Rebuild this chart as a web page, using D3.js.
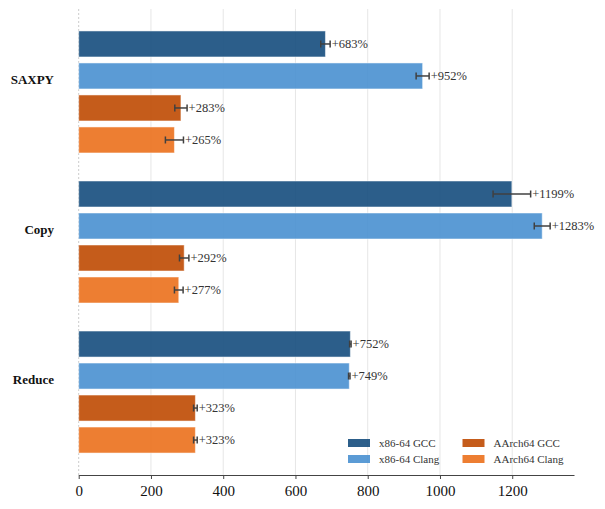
<!DOCTYPE html>
<html>
<head>
<meta charset="utf-8">
<script src="https://cdn.jsdelivr.net/npm/d3@7"></script>
<style>
  body { margin: 0; background: #fff; }
  svg { display: block; }
</style>
</head>
<body>
<svg id="chart"></svg>
<script>
const width = 605;
const height = 509;

// data
const benchmarks = ["SAXPY", "Copy", "Reduce"];
const seriesNames = ["x86-64 GCC", "x86-64 Clang", "AArch64 GCC", "AArch64 Clang"];
const seriesColors = ["#154d7d", "#4990d0", "#bf4a02", "#eb701c"];
const x86Gcc = [683, 1199, 752];
const x86Clang = [952, 1283, 749];
const a64Gcc = [283, 292, 323];
const a64Clang = [265, 277, 323];
const x86GccErr = [13, 52, 2];
const x86ClangErr = [18, 22, 2];
const a64GccErr = [17, 13, 5];
const a64ClangErr = [25, 12, 5];
const xTicks = [0, 200, 400, 600, 800, 1000, 1200];

const values = [x86Gcc, x86Clang, a64Gcc, a64Clang];
const errs = [x86GccErr, x86ClangErr, a64GccErr, a64ClangErr];

const rows = [];
benchmarks.forEach((b, i) => {
    seriesNames.forEach((s, j) => {
        rows.push({bench: b, gi: i, series: s, si: j, v: values[j][i], e: errs[j][i]});
    });
});

const svg = d3.select("#chart")
    .attr("width", width)
    .attr("height", height);

const plotTop = 9, plotBottom = 475, plotLeft = 78.7, plotRight = 574;

const x = d3.scaleLinear().domain([0, 1371]).range([plotLeft, plotRight]);
const y = d3.scaleLinear().domain([-0.553, 2.553]).range([plotTop, plotBottom]);
const inner = d3.scaleBand().domain(seriesNames).range([-61, 61]).paddingInner(0.1875);

const font = "'Liberation Serif', 'Times New Roman', serif";

// grid
svg.append("g")
    .selectAll("line")
    .data(xTicks.filter(t => t > 0))
    .enter().append("line")
    .attr("x1", d => x(d)).attr("x2", d => x(d))
    .attr("y1", plotTop).attr("y2", plotBottom)
    .attr("stroke", "#e6e6e6")
    .attr("stroke-width", 1);

svg.append("line")
    .attr("x1", x(0)).attr("x2", x(0))
    .attr("y1", plotTop).attr("y2", plotBottom)
    .attr("stroke", "#cccccc")
    .attr("stroke-dasharray", "2,2")
    .attr("stroke-width", 1);

// bars
svg.append("g")
    .selectAll("rect")
    .data(rows)
    .enter().append("rect")
    .attr("x", x(0))
    .attr("y", d => y(d.gi) + inner(d.series))
    .attr("width", d => x(d.v) - x(0))
    .attr("height", inner.bandwidth())
    .attr("fill", d => seriesColors[d.si])
    .attr("fill-opacity", 0.9)
    .attr("stroke", "#ffffff")
    .attr("stroke-opacity", 0.5)
    .attr("stroke-width", 1);

// error bars
const eb = svg.append("g").attr("stroke", "#404040").attr("stroke-width", 1.5);
rows.forEach(d => {
    const cy = y(d.gi) + inner(d.series) + inner.bandwidth() / 2;
    eb.append("line").attr("x1", x(d.v - d.e)).attr("x2", x(d.v + d.e)).attr("y1", cy).attr("y2", cy);
    eb.append("line").attr("x1", x(d.v - d.e)).attr("x2", x(d.v - d.e)).attr("y1", cy - 3.5).attr("y2", cy + 3.5);
    eb.append("line").attr("x1", x(d.v + d.e)).attr("x2", x(d.v + d.e)).attr("y1", cy - 3.5).attr("y2", cy + 3.5);
});

// value labels
svg.append("g")
    .selectAll("text")
    .data(rows)
    .enter().append("text")
    .attr("x", d => x(d.v + d.e) + 1.5)
    .attr("y", d => y(d.gi) + inner(d.series) + inner.bandwidth() / 2)
    .attr("dy", "0.35em")
    .attr("font-family", font)
    .attr("font-size", 12.5)
    .attr("fill", "#333")
    .text(d => "+" + d.v + "%");

// group labels
svg.append("g")
    .selectAll("text")
    .data(benchmarks)
    .enter().append("text")
    .attr("x", 54)
    .attr("y", (d, i) => y(i) - 13)
    .attr("dy", "0.35em")
    .attr("text-anchor", "end")
    .attr("font-family", font)
    .attr("font-weight", "bold")
    .attr("font-size", 13)
    .attr("fill", "#111")
    .text(d => d);

// x axis
const xAxis = svg.append("g")
    .attr("transform", `translate(0,${plotBottom})`)
    .call(d3.axisBottom(x).tickValues(xTicks).tickFormat(d3.format("d"))
        .tickSize(4).tickPadding(6).tickSizeOuter(0));
xAxis.select(".domain").attr("stroke", "#444").attr("stroke-width", 1.2);
xAxis.selectAll(".tick line").attr("stroke", "#444");
xAxis.selectAll("text")
    .attr("font-family", font)
    .attr("font-size", 15)
    .attr("fill", "#111");

// legend
const legend = svg.append("g").attr("font-family", font).attr("font-size", 11);
seriesNames.forEach((s, i) => {
    const col = Math.floor(i / 2), row = i % 2;
    const lx = 348 + col * 114.5, ly = 439 + row * 16;
    legend.append("rect")
        .attr("x", lx).attr("y", ly)
        .attr("width", 22).attr("height", 8)
        .attr("fill", seriesColors[i])
        .attr("fill-opacity", 0.9);
    legend.append("text")
        .attr("x", lx + 31).attr("y", ly + 4)
        .attr("dy", "0.35em")
        .attr("fill", "#333")
        .text(s);
});
</script>
</body>
</html>
